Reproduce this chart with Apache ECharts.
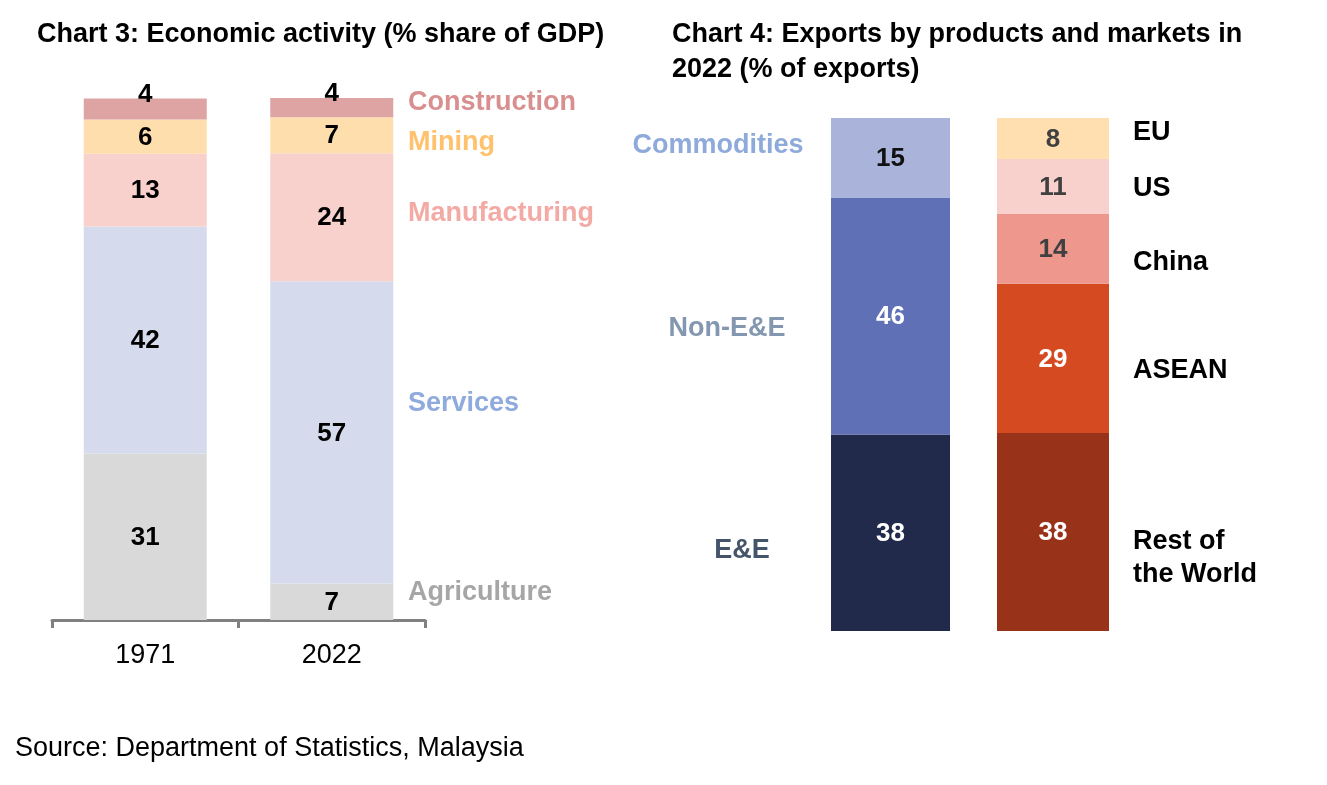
<!DOCTYPE html>
<html>
<head>
<meta charset="utf-8">
<title>Economic activity and exports</title>
<script src="https://cdn.jsdelivr.net/npm/echarts@6/dist/echarts.min.js"></script>
<style>
  html, body { margin: 0; padding: 0; background: #fff; }
  #main { width: 1327px; height: 785px; }
</style>
</head>
<body>
<div id="main"></div>
<script type="text/javascript">
    // Chart 3: share of GDP by activity (bar heights, labels as printed)
    var years = ['1971', '2022'];
    var activityNames = ['Agriculture', 'Services', 'Manufacturing', 'Mining', 'Construction'];
    var agriculture = [31.9, 7.0];
    var services = [43.5, 57.9];
    var manufacturing = [13.9, 24.5];
    var mining = [6.6, 6.9];
    var construction = [4.0, 3.7];
    var agricultureLabels = [31, 7];
    var servicesLabels = [42, 57];
    var manufacturingLabels = [13, 24];
    var miningLabels = [6, 7];
    var constructionLabels = [4, 4];

    // Chart 4: exports by products and by markets
    var productNames = ['E&E', 'Non-E&E', 'Commodities'];
    var productShares = [38.3, 46.2, 15.5];
    var productLabels = [38, 46, 15];
    var marketNames = ['Rest of\nthe World', 'ASEAN', 'China', 'US', 'EU'];
    var marketShares = [38.6, 29.1, 13.6, 10.7, 8.0];
    var marketLabels = [38, 29, 14, 11, 8];

    var FONT = '"Liberation Sans", Arial, sans-serif';

    var activityValues = [agriculture, services, manufacturing, mining, construction];
    var activityLabels = [agricultureLabels, servicesLabels, manufacturingLabels, miningLabels, constructionLabels];
    var activityColors = ['#d9d9d9', '#d5dbec', '#f8d0cc', '#ffdeae', '#dea3a3'];
    var activityTextColors = ['#a6a6a6', '#8faadc', '#f4aaa4', '#ffc16b', '#d98f8f'];
    var activityTextY = [593, 404, 214, 143, 103];

    var productColors = ['#222a4b', '#6070b7', '#aab4da'];
    var productLabelColors = ['#fff', '#fff', '#111'];
    var productTextColors = ['#44546a', '#8497b0', '#8eaadb'];
    var productTextPos = [[742, 551], [727, 329], [718, 146]];

    var marketColors = ['#983219', '#d64a21', '#ee978c', '#f8d0cc', '#ffdeb0'];
    var marketLabelColors = ['#fff', '#fff', '#404040', '#404040', '#404040'];
    var marketTextY = [558, 371, 263, 189, 133];

    var series = [];
    var graphics = [];

    activityNames.forEach(function (name, i) {
        var lbls = activityLabels[i];
        series.push({
            name: name,
            type: 'bar',
            stack: 'gdp',
            xAxisIndex: 0,
            yAxisIndex: 0,
            barWidth: 123,
            data: activityValues[i],
            itemStyle: { color: activityColors[i] },
            label: {
                show: true,
                position: 'inside',
                offset: name === 'Construction' ? [0, -14] : [0, 1],
                formatter: function (p) { return lbls[p.dataIndex]; },
                color: '#000',
                fontSize: 26,
                fontWeight: 'bold',
                fontFamily: FONT,
                textBorderWidth: 0
            },
            emphasis: { disabled: true }
        });
        graphics.push({
            type: 'text', x: 408, y: activityTextY[i],
            style: { text: name, fill: activityTextColors[i], fontSize: 27, fontWeight: 'bold',
                     fontFamily: FONT, textAlign: 'left', textVerticalAlign: 'middle' }
        });
    });

    productNames.forEach(function (name, i) {
        series.push({
            name: name,
            type: 'bar',
            stack: 'prod',
            xAxisIndex: 1,
            yAxisIndex: 1,
            barWidth: '100%',
            data: [productShares[i]],
            itemStyle: { color: productColors[i] },
            label: {
                show: true, position: 'inside', offset: [0, 1],
                formatter: String(productLabels[i]),
                color: productLabelColors[i], fontSize: 26, fontWeight: 'bold',
                fontFamily: FONT, textBorderWidth: 0
            },
            emphasis: { disabled: true }
        });
        graphics.push({
            type: 'text', x: productTextPos[i][0], y: productTextPos[i][1],
            style: { text: name, fill: productTextColors[i], fontSize: 27, fontWeight: 'bold',
                     fontFamily: FONT, textAlign: 'center', textVerticalAlign: 'middle' }
        });
    });

    marketNames.forEach(function (name, i) {
        series.push({
            name: name,
            type: 'bar',
            stack: 'mkt',
            xAxisIndex: 2,
            yAxisIndex: 2,
            barWidth: '100%',
            data: [marketShares[i]],
            itemStyle: { color: marketColors[i] },
            label: {
                show: true, position: 'inside', offset: [0, 1],
                formatter: String(marketLabels[i]),
                color: marketLabelColors[i], fontSize: 26, fontWeight: 'bold',
                fontFamily: FONT, textBorderWidth: 0
            },
            emphasis: { disabled: true }
        });
        graphics.push({
            type: 'text', x: 1133, y: marketTextY[i],
            style: { text: name, fill: '#000', fontSize: 27, fontWeight: 'bold', lineHeight: 33,
                     fontFamily: FONT, textAlign: 'left', textVerticalAlign: 'middle' }
        });
    });

    var hiddenY = { type: 'value', min: 0, max: 100, show: false };

    var myChart = echarts.init(document.getElementById('main'), null, { renderer: 'canvas' });
    myChart.setOption({
        animation: false,
        backgroundColor: '#fff',
        title: [{
            text: 'Chart 3: Economic activity (% share of GDP)',
            left: 37, top: 21, padding: 0,
            textStyle: { fontSize: 27, fontWeight: 'bold', color: '#000', fontFamily: FONT }
        }, {
            text: 'Chart 4: Exports by products and markets in\n2022 (% of exports)',
            left: 672, top: 17, padding: 0,
            textStyle: { fontSize: 27, fontWeight: 'bold', color: '#000', fontFamily: FONT, lineHeight: 35 }
        }, {
            text: 'Source: Department of Statistics, Malaysia',
            left: 15, top: 735, padding: 0,
            textStyle: { fontSize: 27, fontWeight: 'normal', color: '#000', fontFamily: FONT }
        }],
        grid: [
            { left: 52, top: 98, width: 373, height: 522, outerBoundsMode: 'none' },
            { left: 831, top: 118, width: 119, height: 513, outerBoundsMode: 'none' },
            { left: 997, top: 118, width: 112, height: 513, outerBoundsMode: 'none' }
        ],
        xAxis: [{
            type: 'category', gridIndex: 0, data: years,
            axisLine: { lineStyle: { color: '#808080', width: 3 } },
            axisTick: { show: true, length: 8, lineStyle: { color: '#808080', width: 3 } },
            axisLabel: { fontSize: 27, color: '#000', fontFamily: FONT, margin: 22 }
        }, {
            type: 'category', gridIndex: 1, data: ['Products'], show: false
        }, {
            type: 'category', gridIndex: 2, data: ['Markets'], show: false
        }],
        yAxis: [
            Object.assign({ gridIndex: 0 }, hiddenY),
            Object.assign({ gridIndex: 1 }, hiddenY),
            Object.assign({ gridIndex: 2 }, hiddenY)
        ],
        series: series,
        graphic: graphics
    });
</script>
</body>
</html>
